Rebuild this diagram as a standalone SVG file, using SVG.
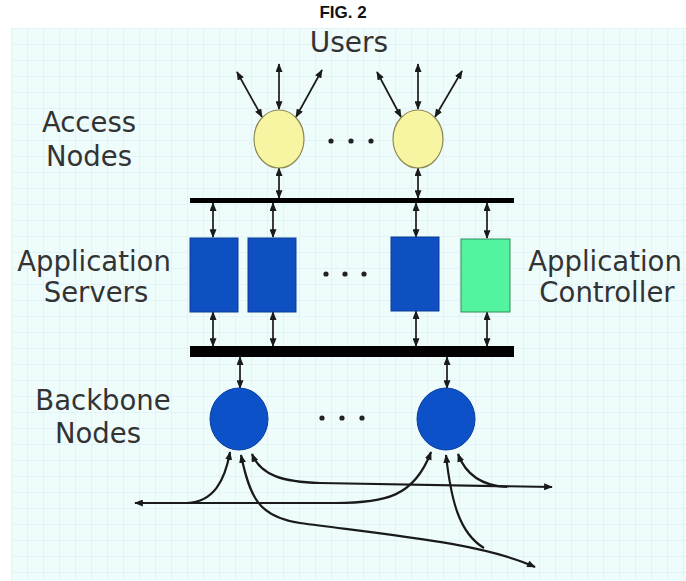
<svg xmlns="http://www.w3.org/2000/svg" width="686" height="581" viewBox="0 0 686 581">
<style>
.lbl{font-family:"DejaVu Sans","Liberation Sans",sans-serif;font-size:27.5px;fill:#333;text-anchor:middle}
.fig{font-family:"Liberation Sans",Arial,sans-serif;font-size:17px;font-weight:bold;fill:#111;text-anchor:middle}
.c{fill:none;stroke:#1a1a1a;stroke-width:1.7;marker-start:url(#ah);marker-end:url(#ah)}
.cb{fill:none;stroke:#1a1a1a;stroke-width:2.2}
.dot{fill:#222}
.acc{fill:#f8f5a2;stroke:#8c8a55;stroke-width:1.2}
.srv{fill:#0e50c2;stroke:#0a3c96;stroke-width:1}
.ctl{fill:#52f4a0;stroke:#2e8a5c;stroke-width:1}
.bb{fill:#0c51c8;stroke:#0a3f9e;stroke-width:1}
.bus{fill:#000}
</style>
<defs>
<pattern id="grid" width="16" height="16" patternUnits="userSpaceOnUse" x="11" y="28">
<path d="M16,0 L0,0 0,16" fill="none" stroke="#d6ebee" stroke-width="1"/>
</pattern>
<marker id="ah" viewBox="0 0 10 8" refX="9" refY="4" markerWidth="9" markerHeight="7" markerUnits="userSpaceOnUse" orient="auto-start-reverse">
<path d="M0,0 L10,4 L0,8 z" fill="#1a1a1a"/>
</marker>
</defs>
<rect x="11" y="28" width="675" height="553" fill="#effcfc"/>
<rect x="11" y="28" width="675" height="553" fill="url(#grid)"/>
<text class="fig" x="343" y="18">FIG. 2</text>
<g id="labels">
<text class="lbl" x="349" y="52" style="font-size:28px">Users</text>
<text class="lbl" x="89" y="132">Access</text>
<text class="lbl" x="89" y="166">Nodes</text>
<text class="lbl" x="94" y="271">Application</text>
<text class="lbl" x="96" y="302">Servers</text>
<text class="lbl" x="605" y="271">Application</text>
<text class="lbl" x="607" y="302">Controller</text>
<text class="lbl" x="103" y="410">Backbone</text>
<text class="lbl" x="98" y="443">Nodes</text>
</g>
<g id="connectors">
<path class="c" d="M262,117 L237,72"/>
<path class="c" d="M279,109 L279,64"/>
<path class="c" d="M296,117 L322,70"/>
<path class="c" d="M401,117 L377,72"/>
<path class="c" d="M418,109 L418,64"/>
<path class="c" d="M435,117 L462,71"/>
<path class="c" d="M279,168 L279,198"/>
<path class="c" d="M418,168 L418,198"/>
<path class="c" d="M213,203 L213,237"/>
<path class="c" d="M273,203 L273,237"/>
<path class="c" d="M416,203 L416,237"/>
<path class="c" d="M487,203 L487,238"/>
<path class="c" d="M213,312 L213,346"/>
<path class="c" d="M273,312 L273,346"/>
<path class="c" d="M416,311 L416,346"/>
<path class="c" d="M487,312 L487,346"/>
<path class="c" d="M240,357 L240,388"/>
<path class="c" d="M447,357 L447,388"/>
<path class="cb" style="marker-start:url(#ah);marker-end:url(#ah)" d="M135,503 L335,503 C385,503 414,497 431,452"/>
<path class="cb" style="marker-end:url(#ah)" d="M187,503 C214,502 225,480 230,452"/>
<path class="cb" style="marker-start:url(#ah);marker-end:url(#ah)" d="M252,454 C261,476 284,482 320,483 L552,487"/>
<path class="cb" style="marker-end:url(#ah)" d="M507,487 C485,486 467,478 458,454"/>
<path class="cb" style="marker-start:url(#ah);marker-end:url(#ah)" d="M241,455 C250,498 259,517 300,523 C390,535 482,543 535,567"/>
<path class="cb" style="marker-end:url(#ah)" d="M484,548 C459,533 451,500 446,455"/>
</g>
<g id="access1"><ellipse class="acc" cx="279" cy="139" rx="25" ry="29"/></g>
<g id="access2"><ellipse class="acc" cx="418" cy="139" rx="25" ry="29"/></g>
<g id="access-dots"><circle class="dot" cx="331" cy="141" r="2.6"/><circle class="dot" cx="351" cy="141" r="2.6"/><circle class="dot" cx="371" cy="141" r="2.6"/></g>
<g id="bus-top"><rect class="bus" x="190" y="198" width="324" height="5"/></g>
<g id="server1"><rect class="srv" x="190" y="238" width="48" height="74"/></g>
<g id="server2"><rect class="srv" x="248" y="238" width="48" height="74"/></g>
<g id="server-dots"><circle class="dot" cx="326" cy="274" r="2.6"/><circle class="dot" cx="345" cy="274" r="2.6"/><circle class="dot" cx="364" cy="274" r="2.6"/></g>
<g id="server3"><rect class="srv" x="391" y="237" width="48" height="74"/></g>
<g id="controller"><rect class="ctl" x="461" y="239" width="49" height="73"/></g>
<g id="bus-bottom"><rect class="bus" x="190" y="346" width="324" height="11"/></g>
<g id="backbone1"><ellipse class="bb" cx="239" cy="419" rx="29" ry="31"/></g>
<g id="backbone2"><ellipse class="bb" cx="446" cy="419" rx="29" ry="31"/></g>
<g id="backbone-dots"><circle class="dot" cx="322" cy="418" r="2.6"/><circle class="dot" cx="342" cy="418" r="2.6"/><circle class="dot" cx="362" cy="418" r="2.6"/></g>
</svg>
